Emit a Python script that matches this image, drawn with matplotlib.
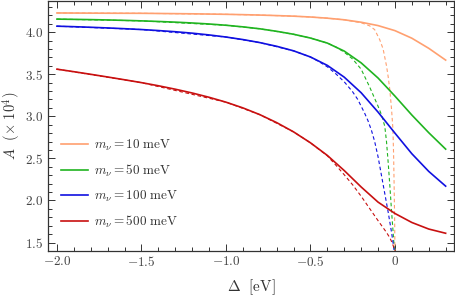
import matplotlib
matplotlib.use("Agg")
import matplotlib.pyplot as plt
from matplotlib.ticker import MultipleLocator, FuncFormatter

plt.rcParams['mathtext.fontset'] = 'cm'
plt.rcParams['font.family'] = 'serif'
plt.rcParams['font.size'] = 9.5

# solid curves (full result)
x_full = [-2.0, -1.9, -1.8, -1.7, -1.6, -1.5, -1.4, -1.3, -1.2, -1.1, -1.0, -0.9,
          -0.8, -0.7, -0.6, -0.5, -0.4, -0.3, -0.2, -0.1, 0.0, 0.1, 0.2, 0.3]
a10 = [4.228, 4.227, 4.226, 4.225, 4.2245, 4.224, 4.222, 4.220, 4.218, 4.215, 4.212, 4.208,
       4.203, 4.197, 4.190, 4.180, 4.166, 4.147, 4.118, 4.078, 4.018, 3.928, 3.808, 3.668]
a50 = [4.155, 4.152, 4.149, 4.145, 4.140, 4.134, 4.127, 4.119, 4.109, 4.097, 4.082, 4.063,
       4.040, 4.010, 3.975, 3.930, 3.870, 3.775, 3.635, 3.455, 3.240, 3.015, 2.805, 2.610]
a100 = [4.071, 4.065, 4.058, 4.050, 4.041, 4.031, 4.019, 4.005, 3.988, 3.967, 3.942, 3.912,
        3.876, 3.832, 3.778, 3.705, 3.605, 3.465, 3.280, 3.050, 2.800, 2.555, 2.345, 2.170]
a500 = [3.560, 3.530, 3.499, 3.467, 3.434, 3.400, 3.363, 3.322, 3.277, 3.226, 3.168, 3.100,
        3.020, 2.925, 2.815, 2.685, 2.535, 2.355, 2.160, 1.980, 1.845, 1.738, 1.660, 1.610]

# dashed curves (approximation), each with its own x values
xd10 = [-2.0, -1.5, -1.0, -0.8, -0.6, -0.5, -0.4, -0.3, -0.2, -0.15, -0.12, -0.09,
        -0.07, -0.05, -0.04, -0.03, -0.02, -0.012, -0.008, -0.005, -0.002, 0.0]
d10 = [4.228, 4.224, 4.212, 4.203, 4.190, 4.180, 4.166, 4.147, 4.112, 4.075, 4.030, 3.910,
       3.800, 3.600, 3.470, 3.310, 3.080, 2.850, 2.550, 2.200, 1.800, 1.400]
xd50 = [-2.0, -1.5, -1.0, -0.8, -0.6, -0.5, -0.4, -0.35, -0.3, -0.25, -0.2, -0.15,
        -0.1, -0.08, -0.06, -0.05, -0.04, -0.03, -0.02, -0.01, -0.003]
d50 = [4.155, 4.134, 4.082, 4.040, 3.975, 3.930, 3.870, 3.825, 3.762, 3.680, 3.560, 3.350,
       3.120, 3.020, 2.880, 2.700, 2.450, 2.170, 1.870, 1.600, 1.400]
xd100 = [-2.0, -1.5, -1.0, -0.8, -0.6, -0.5, -0.45, -0.4, -0.35, -0.3, -0.25, -0.22,
         -0.2, -0.18, -0.16, -0.14, -0.12, -0.1, -0.08, -0.06, -0.04, -0.02, -0.008, -0.004]
d100 = [4.071, 4.031, 3.942, 3.876, 3.778, 3.705, 3.650, 3.588, 3.505, 3.410, 3.290, 3.200,
        3.120, 3.040, 2.950, 2.840, 2.700, 2.520, 2.300, 2.080, 1.860, 1.620, 1.450, 1.400]
xd500 = [-2.0, -1.5, -1.0, -0.8, -0.6, -0.5, -0.4, -0.35, -0.3, -0.25, -0.2, -0.15,
         -0.1, -0.05, -0.03, -0.015, 0.0]
d500 = [3.560, 3.400, 3.168, 3.020, 2.815, 2.685, 2.530, 2.420, 2.305, 2.185, 2.050, 1.905,
        1.760, 1.620, 1.555, 1.490, 1.400]

masses = ['10', '50', '100', '500']
colors = ['#ffa070', '#20b420', '#1010e0', '#c81010']
solid = [a10, a50, a100, a500]
dashed = [(xd10, d10), (xd50, d50), (xd100, d100), (xd500, d500)]

fig = plt.figure(figsize=(4.55, 3.0), dpi=100)
ax = fig.add_axes([0.1055, 0.165, 0.8925, 0.833])

for m, c, ys, (xd, yd) in zip(masses, colors, solid, dashed):
    ax.plot(xd, yd, color=c, lw=0.8, ls=(0, (3.2, 2.4)))
    ax.plot(x_full, ys, color=c, lw=1.2, label=r'$m_\nu = %s\ \mathrm{meV}$' % m)

ax.set_xlim(-2.053, 0.35)
ax.set_ylim(1.405, 4.375)

ax.xaxis.set_major_locator(MultipleLocator(0.5))
ax.xaxis.set_minor_locator(MultipleLocator(0.1))
ax.yaxis.set_major_locator(MultipleLocator(0.5))
ax.yaxis.set_minor_locator(MultipleLocator(0.1))


def fmt(v, pos):
    if abs(v) < 1e-9:
        return r'$0$'
    return r'$%.1f$' % v


ax.xaxis.set_major_formatter(FuncFormatter(fmt))
ax.yaxis.set_major_formatter(FuncFormatter(fmt))
ax.tick_params(which='both', direction='in', top=True, right=True, width=0.7,
               labelsize=9.5, colors='#333333', labelcolor='#444444')
ax.tick_params(which='major', length=5)
ax.tick_params(which='minor', length=2.7)
for s in ax.spines.values():
    s.set_linewidth(0.9)
    s.set_color('#333333')

ax.set_xlabel(r'$\Delta\ \ [\mathrm{eV}]$', fontsize=11, color='#333333', labelpad=6)
ax.set_ylabel(r'$A\ \ (\times\ 10^4)$', fontsize=10.5, color='#333333', labelpad=2)

leg = ax.legend(loc='lower left', bbox_to_anchor=(0.02, 0.06), frameon=False,
                handlelength=2.0, handletextpad=0.45, labelspacing=0.75,
                fontsize=9.5, borderaxespad=0)
for t in leg.get_texts():
    t.set_color('#333333')

fig.savefig('out.png', dpi=100)
